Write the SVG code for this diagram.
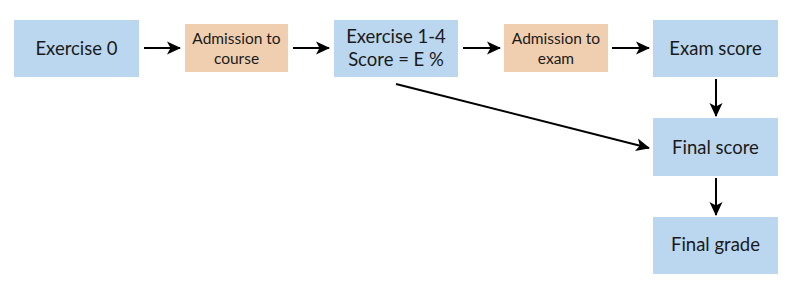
<svg xmlns="http://www.w3.org/2000/svg" width="792" height="295" viewBox="0 0 792 295">
<style>
.b{fill:#bbd7ef}
.o{fill:#f0cfb1}
.t{font-family:Lato,"Open Sans",sans-serif;font-size:18.5px;fill:#1a1a1a;text-anchor:middle}
.s{font-family:Lato,"Open Sans",sans-serif;font-size:15.5px;fill:#1a1a1a;text-anchor:middle}
.c{stroke:#000;stroke-width:2;fill:none;marker-end:url(#ah)}
</style>
<defs>
<marker id="ah" markerWidth="14" markerHeight="14" refX="13" refY="7" orient="auto" markerUnits="userSpaceOnUse">
<path d="M0,0.5 L14,7 L0,13.5 L3.5,7 Z" fill="#000"/>
</marker>
</defs>
<rect width="792" height="295" fill="#fff"/>
<g id="ex0"><rect class="b" x="14" y="20" width="125" height="57"/><text class="t" x="76.5" y="55">Exercise 0</text></g>
<g id="adm1"><rect class="o" x="185" y="24" width="103" height="48"/><text class="s" x="236.5" y="44">Admission to</text><text class="s" x="236.5" y="64">course</text></g>
<g id="ex14"><rect class="b" x="334" y="20" width="124" height="57"/><text class="t" x="396" y="43">Exercise 1-4</text><text class="t" x="396" y="66">Score = E %</text></g>
<g id="adm2"><rect class="o" x="504" y="24" width="104" height="48"/><text class="s" x="556" y="44">Admission to</text><text class="s" x="556" y="64">exam</text></g>
<g id="exam"><rect class="b" x="653" y="20" width="125" height="57"/><text class="t" x="715.5" y="55">Exam score</text></g>
<g id="final"><rect class="b" x="653" y="118" width="125" height="58"/><text class="t" x="715.5" y="154">Final score</text></g>
<g id="grade"><rect class="b" x="653" y="217" width="125" height="57"/><text class="t" x="715.5" y="251">Final grade</text></g>
<g id="connectors">
<line class="c" x1="144" y1="48" x2="180" y2="48"/>
<line class="c" x1="293" y1="48" x2="329" y2="48"/>
<line class="c" x1="463" y1="48" x2="500" y2="48"/>
<line class="c" x1="612" y1="48" x2="649" y2="48"/>
<line class="c" x1="716" y1="79" x2="716" y2="116"/>
<line class="c" x1="716" y1="178" x2="716" y2="215"/>
<line class="c" x1="396" y1="84" x2="649" y2="148"/>
</g>
</svg>
